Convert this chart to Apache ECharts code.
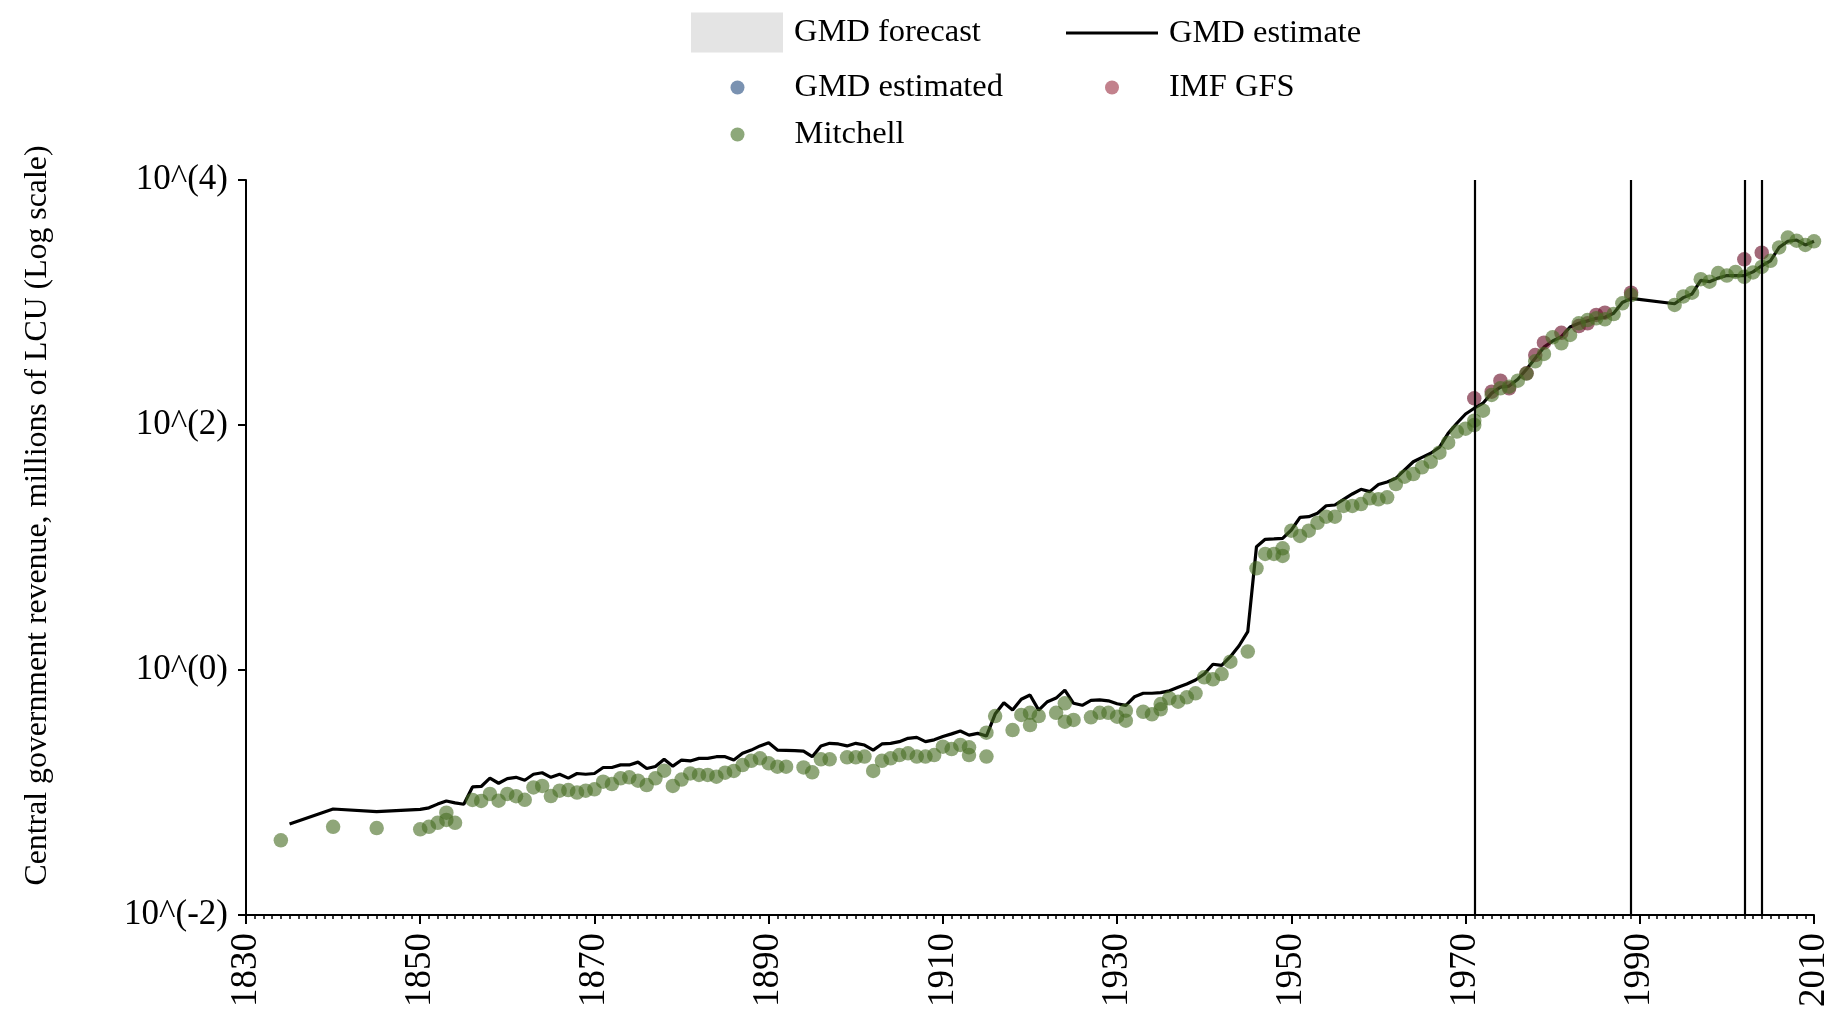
<!DOCTYPE html>
<html>
<head>
<meta charset="utf-8">
<script src="https://cdn.jsdelivr.net/npm/echarts@6/dist/echarts.min.js"></script>
<style>
  html, body { margin: 0; padding: 0; background: #ffffff; }
  #chart { width: 1837px; height: 1017px; }
</style>
</head>
<body>
<div id="chart"></div>
<script>
// ---------- DATA ----------
const gmdYears = [1835,1840,1845,1850,1851,1852,1853,1854,1855,1856,1857,1858,1859,1860,1861,1862,1863,1864,1865,1866,1867,1868,1869,1870,
  1871,1872,1873,1874,1875,1876,1877,1878,1879,1880,1881,1882,1883,1884,1885,1886,1887,1888,1889,1890,1891,1892,1893,1894,1895,1896,1897,1898,1899,1900,
  1901,1902,1903,1904,1905,1906,1907,1908,1909,1910,1911,1912,1913,1914,1915,1916,1917,1918,1919,1920,1921,1922,1923,1924,1925,1926,1927,1928,1929,1930,
  1931,1932,1933,1934,1935,1936,1937,1938,1939,1940,1941,1942,1943,1944,1945,1946,1947,1948,1949,1950,1951,1952,1953,1954,1955,1956,1957,1958,1959,1960,
  1961,1962,1963,1964,1965,1966,1967,1968,1969,1970,1971,1972,1973,1974,1975,1976,1977,1978,1979,1980,1981,1982,1983,1984,1985,1986,1987,1988,1989,
  1994,1995,1996,1997,1998,1999,2000,2001,2002,2003,2004,2005,2006,2007,2008,2009,2010];
const gmdValues = [0.0553,0.0733,0.0697,0.0728,0.0750,0.0804,0.0853,0.0822,0.0802,0.111,0.112,0.131,0.119,0.130,0.133,0.126,0.141,0.145,0.133,0.141,0.131,0.143,0.141,0.143,
  0.160,0.160,0.168,0.168,0.177,0.157,0.163,0.187,0.164,0.184,0.181,0.190,0.190,0.196,0.196,0.184,0.209,0.222,0.240,0.255,0.222,0.221,0.220,0.218,0.196,0.240,0.252,0.249,0.240,0.252,
  0.244,0.222,0.249,0.252,0.260,0.277,0.282,0.260,0.269,0.286,0.301,0.318,0.294,0.304,0.289,0.437,0.541,0.471,0.577,0.625,0.470,0.551,0.590,0.685,0.535,0.515,0.565,0.570,0.560,0.530,
  0.515,0.605,0.646,0.646,0.653,0.676,0.723,0.769,0.828,0.927,1.114,1.091,1.285,1.578,2.056,10.16,11.67,11.75,11.89,13.90,17.62,17.86,19.01,21.93,22.23,24.72,27.35,29.85,28.58,32.66,
  34.28,36.73,42.95,50.12,54.45,58.75,65.77,85.51,103.3,123.0,137.1,150.7,182,204,208,236,285,350,432,485,526,631,676,708,743,757,817,1000,1081,
  977,1096,1175,1514,1479,1585,1660,1660,1660,1778,1995,2188,2818,3162,3236,2951,3162];

const mitchellYears = [1834,1840,1845,1850,1851,1852,1853,1853,1854,1856,1857,1858,1859,1860,1861,1862,1863,1864,1865,1866,1867,1868,1869,1870,
  1871,1872,1873,1874,1875,1876,1877,1878,1879,1880,1881,1882,1883,1884,1885,1886,1887,1888,1889,1890,1891,1892,1894,1895,1896,1897,1899,1900,
  1901,1902,1903,1904,1905,1906,1907,1908,1909,1910,1911,1912,1913,1913,1915,1915,1916,1918,1919,1920,1920,1921,1923,1924,1924,1925,1927,1928,1929,1930,
  1931,1931,1933,1934,1935,1935,1936,1937,1938,1939,1940,1941,1942,1943,1945,1946,1947,1948,1949,1949,1950,1951,1952,1953,1954,1955,1956,1957,1958,1959,1960,
  1961,1962,1963,1964,1965,1966,1967,1968,1969,1970,1971,1971,1972,1973,1974,1975,1976,1977,1978,1979,1980,1981,1982,1983,1984,1985,1986,1987,1988,1989,
  1994,1995,1996,1997,1998,1999,2000,2001,2002,2003,2004,2005,2006,2007,2008,2009,2010];
const mitchellValues = [0.0407,0.0525,0.0513,0.0501,0.0525,0.0566,0.0684,0.0597,0.0566,0.0869,0.0853,0.0973,0.0857,0.0973,0.0933,0.0871,0.110,0.113,0.0935,0.1035,0.1047,0.100,0.1035,0.1062,
  0.1225,0.1172,0.1306,0.133,0.125,0.1151,0.1306,0.1507,0.113,0.1274,0.1432,0.139,0.139,0.1346,0.1452,0.150,0.1675,0.1816,0.190,0.173,0.1626,0.1626,0.1603,0.1462,0.1866,0.1866,0.1936,0.1936,
  0.1963,0.150,0.1816,0.190,0.2023,0.2089,0.1963,0.1963,0.2023,0.2366,0.2265,0.2443,0.2023,0.2339,0.1963,0.3076,0.4207,0.3236,0.4295,0.4477,0.3556,0.4207,0.4477,0.5346,0.3784,0.3908,0.4111,0.4477,0.4477,0.4159,
  0.4656,0.3855,0.456,0.4345,0.5272,0.4775,0.5875,0.5508,0.5984,0.6457,0.871,0.8395,0.9268,1.170,1.413,6.761,8.851,8.851,8.531,9.840,13.71,12.42,13.71,15.92,17.86,17.86,21.83,21.83,22.65,25.23,24.72,
  25.70,32.96,37.84,39.81,45.19,50.12,59.43,71.78,88.31,93.3,108.4,100.0,130.9,175.8,199.5,205.6,230.1,263.0,331.1,380.2,520.0,464.5,543.3,676.1,719.5,743.0,729.5,805.4,984.0,1151,
  955,1122,1202,1549,1479,1738,1660,1778,1622,1758,1950,2188,2818,3388,3199,2951,3162];

const imfYears = [1971,1973,1974,1975,1977,1978,1979,1981,1983,1984,1985,1986,1989,2002,2004];
const imfValues = [165.2,187.1,230.1,199.5,264.2,372.4,469.9,566.2,642.7,676.1,790.7,826.0,1202,2254,2553];

const breakYears = [1971, 1989, 2002, 2004];
const yTickExponents = [-2, 0, 2, 4];

const seriesNames = ['GMD forecast', 'GMD estimate', 'GMD estimated', 'IMF GFS', 'Mitchell'];
const yTitle = 'Central government revenue, millions of LCU (Log scale)';

// ---------- BUILD ----------
const pairs = (xs, ys) => xs.map((x, i) => [x, ys[i]]);
const FONT = 'Liberation Serif';
const GREEN = 'rgba(70,108,35,0.76)';
const RED = 'rgba(110,20,45,0.8)';
const BLUE = 'rgba(60,95,140,0.85)';
const GRAY = '#e4e4e4';

function legendBox(name, left, top, icon, iw, ih, color) {
  return {
    data: [{ name: name, icon: icon, itemStyle: { color: color } }],
    left: left, top: top, padding: 0, orient: 'horizontal',
    itemWidth: iw, itemHeight: ih, selectedMode: false,
    textStyle: { fontFamily: FONT, fontSize: 32.5, color: '#000', lineHeight: 33, padding: [0, 0, 0, 6] }
  };
}

const chart = echarts.init(document.getElementById('chart'), null, { renderer: 'canvas' });
chart.setOption({
  animation: false,
  backgroundColor: '#ffffff',
  textStyle: { fontFamily: FONT },
  legend: [
    legendBox(seriesNames[0], 691, 12.5, 'rect', 92, 40, GRAY),
    legendBox(seriesNames[1], 1066, 16.5, 'rect', 92, 3, '#000'),
    legendBox(seriesNames[2], 730.5, 71, 'circle', 92, 14, BLUE),
    legendBox(seriesNames[3], 1105, 71, 'circle', 92, 14, 'rgba(170,80,95,0.9)'),
    legendBox(seriesNames[4], 730.5, 118, 'circle', 92, 14, 'rgba(105,140,80,0.95)')
  ],
  grid: { left: 246, right: 23, top: 180, bottom: 102, outerBoundsMode: 'none' },
  xAxis: {
    type: 'value', min: 1830, max: 2010, interval: 20,
    axisLine: { show: true, lineStyle: { color: '#000', width: 2 } },
    axisTick: { show: true, length: 9, lineStyle: { color: '#000', width: 2 } },
    minorTick: { show: true, splitNumber: 20, length: 4, lineStyle: { color: '#000', width: 1.5 } },
    splitLine: { show: false },
    axisLabel: { rotate: 90, fontFamily: FONT, fontSize: 37, color: '#000', margin: 18, formatter: v => String(v) }
  },
  yAxis: {
    type: 'log', logBase: 100, min: 0.01, max: 10000,
    axisLine: { show: true, lineStyle: { color: '#000', width: 2 } },
    axisTick: { show: true, length: 8, lineStyle: { color: '#000', width: 2 } },
    splitLine: { show: false },
    axisLabel: {
      fontFamily: FONT, fontSize: 35, color: '#000', margin: 18,
      formatter: v => {
        const e = Math.round(Math.log10(v));
        return yTickExponents.indexOf(e) >= 0 ? '10^(' + e + ')' : '';
      }
    },
    name: yTitle, nameLocation: 'middle', nameGap: 192,
    nameTextStyle: { fontFamily: FONT, fontSize: 31.8, color: '#000', padding: [0, 0, 0, 64] }
  },
  series: [
    { name: seriesNames[0], type: 'line', data: [], itemStyle: { color: GRAY } },
    {
      name: seriesNames[1], type: 'line', data: pairs(gmdYears, gmdValues), z: 2,
      showSymbol: false, symbol: 'none', color: '#000',
      lineStyle: { color: '#000', width: 3.2 },
      markLine: {
        silent: true, symbol: 'none', label: { show: false },
        lineStyle: { color: '#000', width: 2.2, type: 'solid' },
        data: breakYears.map(y => ({ xAxis: y }))
      }
    },
    { name: seriesNames[2], type: 'scatter', data: [], symbolSize: 14, itemStyle: { color: BLUE } },
    { name: seriesNames[3], type: 'scatter', data: pairs(imfYears, imfValues), symbolSize: 14.5, z: 3, itemStyle: { color: RED } },
    { name: seriesNames[4], type: 'scatter', data: pairs(mitchellYears, mitchellValues), symbolSize: 14.5, z: 4, itemStyle: { color: GREEN } }
  ]
});
</script>
</body>
</html>
